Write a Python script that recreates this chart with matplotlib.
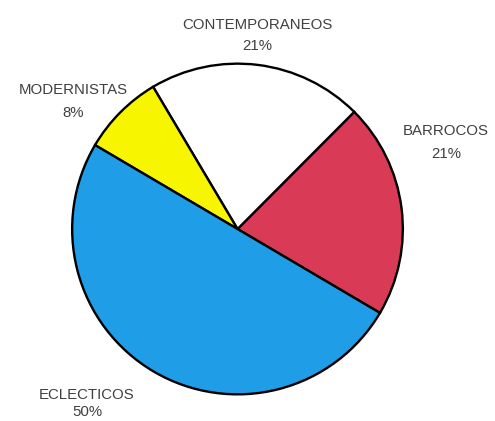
import matplotlib
matplotlib.use("Agg")
import matplotlib.pyplot as plt

# Share of each style
categories = ["BARROCOS", "CONTEMPORANEOS", "MODERNISTAS", "ECLECTICOS"]
values = [21, 21, 8, 50]
colors = ["#d93a56", "#ffffff", "#f7f500", "#1f9de6"]

W, H = 495, 421
fig = plt.figure(figsize=(W / 100, H / 100), dpi=100)
fig.patch.set_facecolor("white")

cx, cy, r = 237.5, 229, 167
ax = fig.add_axes([(cx - r) / W, (H - cy - r) / H, 2 * r / W, 2 * r / H])
ax.pie(values, colors=colors, startangle=-30.5, counterclock=True,
       radius=1.0, wedgeprops=dict(edgecolor="black", linewidth=1.7))
ax.set_xlim(-1.01, 1.01)
ax.set_ylim(-1.01, 1.01)
ax.set_aspect("equal")
ax.axis("off")

# label placement in pixels: (x centre, baseline of name, baseline of percent)
label_pos = {
    "CONTEMPORANEOS": (257, 29, 50),
    "MODERNISTAS": (73, 94, 117),
    "BARROCOS": (446, 135, 158),
    "ECLECTICOS": (87, 399, 416),
}
style = dict(ha="center", va="baseline", fontsize=10.8,
             family="Liberation Sans", color="#404040")
for name, val in zip(categories, values):
    x, y1, y2 = label_pos[name]
    fig.text(x / W, 1 - y1 / H, name, **style)
    fig.text(x / W, 1 - y2 / H, f"{val}%", **style)

fig.savefig("out.png", dpi=100, facecolor="white")
